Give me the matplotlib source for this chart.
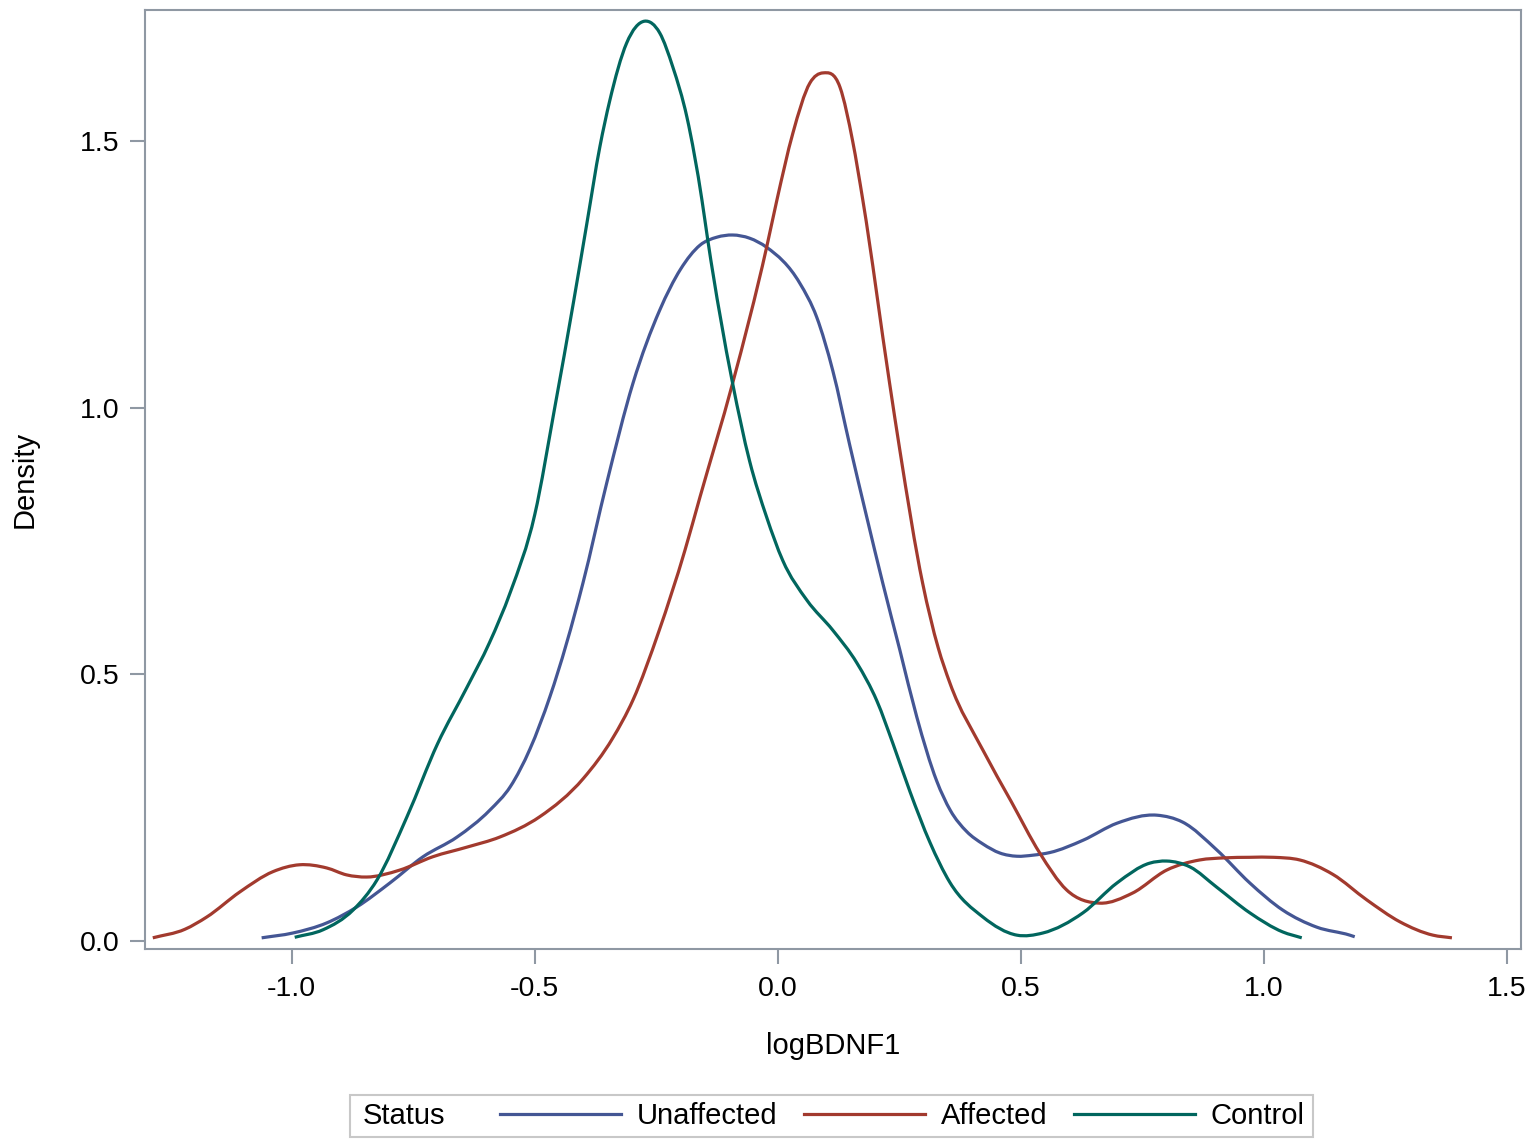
import numpy as np
import matplotlib.pyplot as plt
from matplotlib.patches import Rectangle, PathPatch
from matplotlib.path import Path
from matplotlib.lines import Line2D

plt.rcParams['font.family'] = ['Liberation Sans', 'DejaVu Sans']

# density curves (logBDNF1, density)
unaff_x = [-1.062, -0.998, -0.928, -0.866, -0.798, -0.730, -0.660, -0.593, -0.550, -0.510,
           -0.469, -0.401, -0.352, -0.298, -0.243, -0.200, -0.160, -0.125, -0.093, -0.058,
           -0.023, 0.045, 0.080, 0.113, 0.148, 0.183, 0.216, 0.251, 0.286, 0.327,
           0.355, 0.389, 0.422, 0.457, 0.492, 0.525, 0.560, 0.628, 0.698, 0.780,
           0.833, 0.903, 0.971, 1.039, 1.109, 1.177, 1.187]
unaff_y = [0.006, 0.015, 0.034, 0.064, 0.109, 0.158, 0.195, 0.245, 0.290, 0.360,
           0.458, 0.671, 0.859, 1.046, 1.183, 1.260, 1.305, 1.320, 1.324, 1.318,
           1.301, 1.234, 1.170, 1.070, 0.930, 0.795, 0.671, 0.546, 0.420, 0.300,
           0.245, 0.205, 0.182, 0.165, 0.159, 0.161, 0.166, 0.189, 0.221, 0.236,
           0.223, 0.171, 0.109, 0.058, 0.026, 0.011, 0.008]

aff_x = [-1.286, -1.220, -1.175, -1.107, -1.039, -0.984, -0.928, -0.887, -0.846, -0.778,
         -0.710, -0.640, -0.572, -0.490, -0.400, -0.340, -0.298, -0.245, -0.191, -0.160,
         -0.093, -0.023, -0.002, 0.031, 0.066, 0.093, 0.128, 0.154, 0.175, 0.230,
         0.251, 0.298, 0.330, 0.354, 0.422, 0.480, 0.539, 0.594, 0.663, 0.730,
         0.800, 0.868, 0.920, 0.971, 1.020, 1.074, 1.142, 1.212, 1.280, 1.348,
         1.387]
aff_y = [0.006, 0.022, 0.045, 0.092, 0.130, 0.143, 0.137, 0.124, 0.120, 0.133,
         0.158, 0.176, 0.195, 0.233, 0.305, 0.380, 0.452, 0.580, 0.733, 0.833,
         1.046, 1.301, 1.389, 1.515, 1.609, 1.628, 1.601, 1.500, 1.389, 1.046,
         0.921, 0.671, 0.550, 0.484, 0.358, 0.262, 0.165, 0.096, 0.071, 0.090,
         0.133, 0.152, 0.156, 0.157, 0.157, 0.152, 0.125, 0.077, 0.036, 0.011,
         0.006]

ctrl_x = [-0.994, -0.936, -0.874, -0.825, -0.763, -0.700, -0.640, -0.593, -0.550, -0.500,
          -0.459, -0.420, -0.393, -0.366, -0.346, -0.311, -0.274, -0.243, -0.216, -0.187,
          -0.156, -0.144, -0.093, -0.058, -0.023, 0.010, 0.060, 0.113, 0.163, 0.204,
          0.237, 0.272, 0.313, 0.354, 0.422, 0.492, 0.545, 0.628, 0.698, 0.765,
          0.800, 0.848, 0.903, 0.971, 1.039, 1.078]
ctrl_y = [0.007, 0.021, 0.058, 0.114, 0.233, 0.370, 0.475, 0.560, 0.655, 0.800,
          1.000, 1.200, 1.345, 1.490, 1.575, 1.684, 1.725, 1.703, 1.639, 1.545,
          1.389, 1.314, 1.046, 0.900, 0.795, 0.714, 0.639, 0.583, 0.521, 0.450,
          0.370, 0.280, 0.185, 0.110, 0.045, 0.011, 0.015, 0.053, 0.109, 0.146,
          0.150, 0.139, 0.101, 0.053, 0.017, 0.006]

labels = ['Unaffected', 'Affected', 'Control']
colors = ['#445694', '#A23A2E', '#01665E']
frame_col = '#8f98a3'


def curve_path(xs, ys):
    # cubic hermite pieces through the read points, drawn as bezier segments
    x = np.asarray(xs, float)
    y = np.asarray(ys, float)
    m = np.gradient(y, x)
    verts = [(x[0], y[0])]
    codes = [Path.MOVETO]
    for i in range(len(x) - 1):
        h = x[i + 1] - x[i]
        verts += [(x[i] + h / 3, y[i] + m[i] * h / 3),
                  (x[i + 1] - h / 3, y[i + 1] - m[i + 1] * h / 3),
                  (x[i + 1], y[i + 1])]
        codes += [Path.CURVE4] * 3
    return Path(verts, codes)


fig = plt.figure(figsize=(15.36, 11.47), dpi=100)
ax = fig.add_axes([0.0944, 0.1726, 0.8958, 0.8187])

handles = []
for xs, ys, lab, c in zip([unaff_x, aff_x, ctrl_x], [unaff_y, aff_y, ctrl_y], labels, colors):
    ax.add_patch(PathPatch(curve_path(xs, ys), fill=False, edgecolor=c, lw=2.3,
                           transform=ax.transData))
    handles.append(Line2D([], [], color=c, lw=2.3))

ax.set_xlim(-1.302, 1.529)
ax.set_ylim(-0.015, 1.746)
ax.set_xticks([-1.0, -0.5, 0.0, 0.5, 1.0, 1.5])
ax.set_yticks([0.0, 0.5, 1.0, 1.5])
ax.xaxis.set_major_formatter(plt.FormatStrFormatter('%.1f'))
ax.yaxis.set_major_formatter(plt.FormatStrFormatter('%.1f'))
for s in ax.spines.values():
    s.set_color(frame_col)
    s.set_linewidth(1.5)
ax.tick_params(axis='both', direction='out', length=10.5, width=1.5, color=frame_col,
               labelsize=20.5, labelcolor='black')
ax.tick_params(axis='x', pad=9)
ax.tick_params(axis='y', pad=8)

ax.set_xlabel('logBDNF1', fontsize=21)
ax.set_ylabel('Density', fontsize=21)
ax.xaxis.set_label_coords(0.5, -0.088)
ax.yaxis.set_label_coords(-0.077, 0.5)

# legend strip at bottom
fig.patches.append(Rectangle((350 / 1536, 1 - 1137 / 1147), 963 / 1536, 42 / 1147,
                             transform=fig.transFigure, fill=False,
                             edgecolor='#c8c8c8', linewidth=1.5))
fig.text(363 / 1536, 1 - 1116 / 1147, 'Status', fontsize=21, ha='left', va='center')
fig.legend(handles, labels, loc='center left', bbox_to_anchor=(500 / 1536, 1 - 1116 / 1147),
           ncol=3, frameon=False, fontsize=21, handlelength=4.15, handletextpad=0.55,
           columnspacing=0.9, borderpad=0, borderaxespad=0)

fig.savefig('out.png', dpi=100)
